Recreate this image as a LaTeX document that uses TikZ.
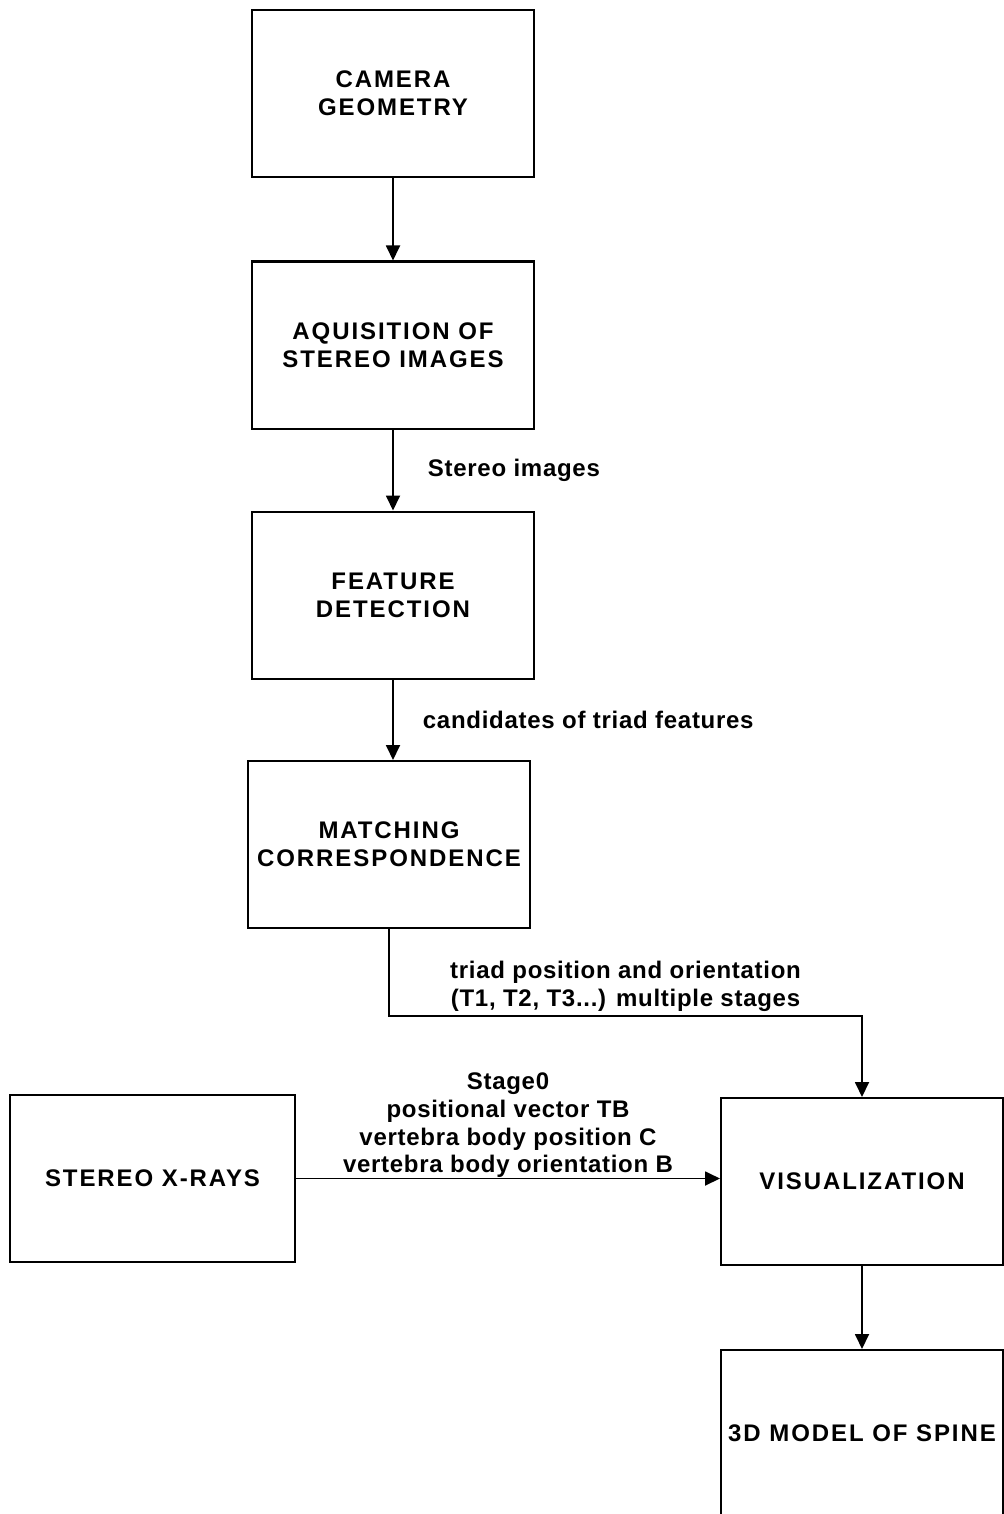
\documentclass[tikz,border=0pt]{standalone}
\usepackage{fontspec}
\setmainfont{Liberation Sans}
\newfontfamily\boxfont{Liberation Sans}[LetterSpace=8]
\newfontfamily\labelfont{Liberation Sans}[LetterSpace=3]
\usetikzlibrary{arrows.meta}

\begin{document}
\begin{tikzpicture}[x=0.5pt, y=-0.5pt,
    stage/.style={draw, line width=1pt, minimum width=141pt, minimum height=83.5pt,
      align=center, inner sep=0pt, font=\boxfont\bfseries\fontsize{12}{14}\selectfont},
    flow/.style={line width=0.9pt, -{Triangle[length=7.5pt,width=7pt]}},
    info/.style={align=center, inner sep=0pt, font=\labelfont\bfseries\fontsize{12}{13.8}\selectfont}]
		% page size
		\useasboundingbox (0,0) rectangle (1004,1514);
		\clip (0,0) rectangle (1004,1514);

		% draw stages
		\node[stage] (camera) at (393,93.5) {CAMERA\\GEOMETRY};
		\node[stage] (aquisition) at (393,345) {AQUISITION OF\\STEREO IMAGES};
		\node[stage] (features) at (393,595) {FEATURE\\DETECTION};
		\node[stage] (matching) at (389,844.5) {MATCHING\\CORRESPONDENCE};
		\node[stage, minimum width=142.5pt] (xrays) at (152.5,1178.5) {STEREO X-RAYS};
		\node[stage] (visual) at (862,1181.5) {VISUALIZATION};
		\node[stage] (spine) at (862,1433.5) {3D MODEL OF SPINE};

		% draw flows
		\draw[flow] (camera) -- (aquisition);
		\draw[flow] (aquisition) -- node[info, right=17pt] {Stereo images} (features);
		\draw[flow] (features) -- node[info, right=14.5pt] {candidates of triad features} (features.south |- matching.north);
		\draw[flow] (matching.south) -- ++(0,87) coordinate (turn) -| node[info, pos=0.25, above=2pt] {triad position and orientation\\(T1, T2, T3...) multiple stages} (visual.north);
		\draw[flow] (xrays) -- node[info, above=0pt] {Stage0\\positional vector TB\\vertebra body position C\\vertebra body orientation B} (xrays -| visual.west);
		\draw[flow] (visual) -- (spine);
	\end{tikzpicture}
\end{document}
